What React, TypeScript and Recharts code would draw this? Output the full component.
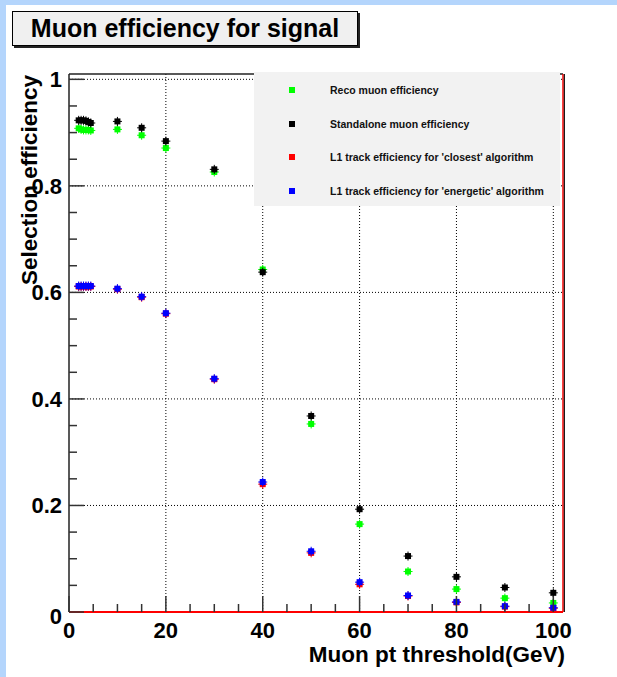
import { ScatterChart, Scatter, XAxis, YAxis, CartesianGrid, ReferenceLine } from "recharts";

const thresholds = [2, 2.5, 3, 3.5, 4, 4.5, 10, 15, 20, 30, 40, 50, 60, 70, 80, 90, 100];
const recoEff = [0.908, 0.906, 0.905, 0.905, 0.905, 0.904, 0.906, 0.895, 0.871, 0.826, 0.643, 0.353, 0.165, 0.076, 0.043, 0.026, 0.017];
const standaloneEff = [0.923, 0.923, 0.923, 0.922, 0.92, 0.918, 0.921, 0.909, 0.884, 0.831, 0.638, 0.368, 0.193, 0.105, 0.066, 0.046, 0.036];
const closestEff = [0.611, 0.611, 0.611, 0.611, 0.611, 0.611, 0.606, 0.591, 0.56, 0.437, 0.24, 0.111, 0.052, 0.03, 0.018, 0.01, 0.007];
const energeticEff = [0.612, 0.612, 0.612, 0.612, 0.612, 0.612, 0.607, 0.592, 0.561, 0.438, 0.244, 0.114, 0.056, 0.031, 0.019, 0.011, 0.008];

const seriesNames = [
  "Reco muon efficiency",
  "Standalone muon efficiency",
  "L1 track efficiency for 'closest' algorithm",
  "L1 track efficiency for 'energetic' algorithm",
];
const seriesColors = ["#00ff00", "#000000", "#ff0000", "#0000ff"];

const xTicks = Array.from({ length: 21 }, (_, i) => i * 5);
const yTicks = Array.from({ length: 21 }, (_, i) => i / 20);
const xGrid = [20, 40, 60, 80, 100];
const yGrid = [0.2, 0.4, 0.6, 0.8, 1];

const FONT = "'Liberation Sans', Arial, Helvetica, sans-serif";

const toPoints = (vals: number[]) => thresholds.map((x, i) => ({ x, y: vals[i] }));
const allSeries = [recoEff, standaloneEff, closestEff, energeticEff].map(toPoints);

function Marker(props: any) {
  const { cx, cy, fill } = props;
  if (cx == null || cy == null) return null;
  return (
    <g>
      <line x1={cx - 4.5} x2={cx + 4.5} y1={cy} y2={cy} stroke={fill} strokeWidth={1} />
      <line x1={cx} x2={cx} y1={cy - 4.5} y2={cy + 4.5} stroke={fill} strokeWidth={1} />
      <rect x={cx - 3} y={cy - 3} width={6} height={6} fill={fill} />
    </g>
  );
}

function XTick(props: any) {
  const { x, y, payload } = props;
  const v = payload.value;
  const major = v % 20 === 0;
  return (
    <g>
      <line x1={x} x2={x} y1={y} y2={y - (major ? 16 : 8)} stroke="#333" strokeWidth={1.5} />
      {major && (
        <text x={x} y={y + 26} textAnchor="middle" fontFamily={FONT} fontWeight="bold" fontSize={22} fill="#000">
          {v}
        </text>
      )}
    </g>
  );
}

function YTick(props: any) {
  const { x, y, payload } = props;
  const v = payload.value;
  const k = Math.round(v * 20);
  const major = k % 4 === 0;
  const label = k === 0 ? "0" : k === 20 ? "1" : v.toFixed(1);
  return (
    <g>
      <line x1={x} x2={x + (major ? 15 : 8)} y1={y} y2={y} stroke="#333" strokeWidth={1.5} />
      {major && (
        <text x={x - 7} y={y + 8 + (k === 0 ? 4 : 0)} textAnchor="end" fontFamily={FONT} fontWeight="bold" fontSize={22} fill="#000">
          {label}
        </text>
      )}
    </g>
  );
}

export default function App() {
  return (
    <div style={{ position: "absolute", left: 0, top: 0, width: 617, height: 677, background: "#fff", overflow: "hidden" }}>
      <div style={{ position: "absolute", left: 0, top: 0, width: 617, height: 5, background: "#b4d5fc" }} />
      <div style={{ position: "absolute", left: 0, top: 0, width: 6, height: 677, background: "#b4d5fc" }} />

      <div style={{ position: "absolute", left: 0, top: 0 }}>
        <ScatterChart width={617} height={677} margin={{ top: 74, right: 54, bottom: 35, left: 9 }}>
          <CartesianGrid
            horizontal
            vertical
            horizontalValues={yGrid}
            verticalValues={xGrid}
            stroke="#000"
            strokeDasharray="1 2"
          />
          <XAxis
            type="number"
            dataKey="x"
            domain={[0, 102]}
            ticks={xTicks}
            interval={0}
            height={30}
            tickSize={0}
            tickMargin={0}
            tickLine={false}
            axisLine={{ stroke: "#ff0000", strokeWidth: 2 }}
            tick={<XTick />}
            allowDataOverflow
          />
          <YAxis
            type="number"
            dataKey="y"
            domain={[0, 1.01]}
            ticks={yTicks}
            interval={0}
            width={60}
            tickSize={0}
            tickMargin={0}
            tickLine={false}
            axisLine={{ stroke: "#222", strokeWidth: 1.5 }}
            tick={<YTick />}
            allowDataOverflow
          />
          <ReferenceLine y={1.01} stroke="#222" strokeWidth={1.5} />
          <ReferenceLine x={102} stroke="#ff0000" strokeWidth={1.5} />
          <ReferenceLine x={102.28} stroke="#111" strokeWidth={1.2} ifOverflow="visible" />
          {allSeries.map((data, i) => (
            <Scatter
              key={seriesNames[i]}
              name={seriesNames[i]}
              data={data}
              fill={seriesColors[i]}
              shape={<Marker />}
              isAnimationActive={false}
            />
          ))}
        </ScatterChart>
      </div>

      <svg width={617} height={677} style={{ position: "absolute", left: 0, top: 0, pointerEvents: "none" }}>
        <text x={565} y={662} textAnchor="end" fontFamily={FONT} fontWeight="bold" fontSize={22.5} fill="#000">
          Muon pt threshold(GeV)
        </text>
        <text
          transform="translate(37,75) rotate(-90)"
          textAnchor="end"
          fontFamily={FONT}
          fontWeight="bold"
          fontSize={22.5}
          fill="#000"
        >
          Selection efficiency
        </text>
      </svg>

      <div
        style={{
          position: "absolute",
          left: 254,
          top: 72,
          width: 306,
          height: 134,
          background: "#f2f2f2",
          fontFamily: FONT,
          fontWeight: "bold",
          fontSize: 10.5,
          color: "#111",
        }}
      >
        {seriesNames.map((name, i) => (
          <div key={name} style={{ position: "absolute", left: 0, top: 18 + i * 33.6 - 8, height: 16, width: 306 }}>
            <div
              style={{
                position: "absolute",
                left: 35,
                top: 5,
                width: 6,
                height: 6,
                background: seriesColors[i],
              }}
            />
            <div style={{ position: "absolute", left: 76, top: 0, lineHeight: "16px", whiteSpace: "nowrap" }}>{name}</div>
          </div>
        ))}
      </div>

      <div
        style={{
          position: "absolute",
          left: 12,
          top: 11,
          width: 344,
          height: 33,
          background: "#f0f0f0",
          border: "1px solid #000",
          boxShadow: "2px 2px 0 #222",
          fontFamily: FONT,
          fontWeight: "bold",
          fontSize: 25,
          lineHeight: "33px",
          textAlign: "center",
          color: "#000",
        }}
      >
        Muon efficiency for signal
      </div>
    </div>
  );
}
